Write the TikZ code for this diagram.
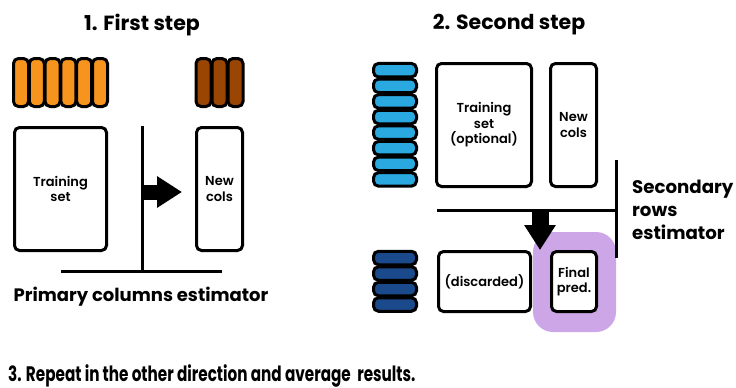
\documentclass[tikz,border=0pt]{standalone}
\usepackage{fontspec}
\setmainfont{Poppins}[BoldFont={Poppins SemiBold}]
\newfontfamily\heavyfont{Poppins Bold}
\usetikzlibrary{arrows.meta,positioning}

\definecolor{colorange}{HTML}{F7941D}
\definecolor{colbrown}{HTML}{9A4502}
\definecolor{rowblue}{HTML}{29A9E0}
\definecolor{rowdark}{HTML}{1B4A8C}
\definecolor{hilite}{HTML}{CDA6E8}

\tikzset{
  databox/.style={draw, line width=3pt, rounded corners=5pt, fill=white, inner sep=0pt,
    align=center, font=\bfseries\fontsize{13}{15.5}\selectfont},
  strip/.style={draw, line width=3pt, rounded corners=5pt, inner sep=0pt},
  colstrip/.style={strip, minimum width=15pt, minimum height=48pt},
  rowstrip/.style={strip, minimum width=43pt, minimum height=13.5pt},
  estline/.style={line width=3pt},
  bigarrow/.style={line width=#1, -{Triangle[length=25pt,width=30pt]}},
  title/.style={font=\heavyfont\fontsize{20.5}{24}\selectfont},
  label/.style={font=\heavyfont\fontsize{18}{23}\selectfont, align=left}
}

\begin{document}
\begin{tikzpicture}[x=1pt, y=-1pt]
  \useasboundingbox (0,0) rectangle (736,388);

  % Titles
  \node[title] (title1) at (142,25) {1. First step};
  \node[title] (title2) at (509,25) {2. Second step};

  % First step: columns
  \foreach \i in {0,...,5}
    \node[colstrip, fill=colorange] (ocol\i) at (21+\i*15.8,82.5) {};
  \foreach \i in {0,...,2}
    \node[colstrip, fill=colbrown] (bcol\i) at (203.5+\i*16,82.5) {};

  % First step: boxes
  \node[databox, minimum width=92pt, minimum height=123pt] (train1) at (60.5,189) {Training\\set};
  \node[databox, minimum width=46pt, minimum height=123pt] (newcols1) at (219.5,189) {New\\cols};

  % Primary estimator
  \coordinate (est1top) at (142,126);
  \coordinate (est1bot) at (142,271);
  \coordinate (est1left) at (61,271);
  \coordinate (est1right) at (222,271);
  \draw[estline] (est1top) -- (est1bot);
  \draw[estline] (est1left) -- (est1right);
  \draw[bigarrow=15pt] ([yshift=-3pt]est1top |- newcols1.west) -- ([xshift=-13pt,yshift=-3pt]newcols1.west);
  \node[label] (prim) at (141,297) {Primary columns estimator};

  % Second step: rows
  \foreach \i in {0,...,7}
    \node[rowstrip, fill=rowblue] (brow\i) at (395,70.2+\i*15.6) {};
  \foreach \i in {0,...,3}
    \node[rowstrip, fill=rowdark] (drow\i) at (395,258+\i*15.5) {};

  % Second step: boxes
  \node[fill=hilite, rounded corners=20pt, minimum width=83pt, minimum height=100pt] (hilite) at (574.5,282) {};
  \node[databox, minimum width=95pt, minimum height=123pt] (train2) at (484,125) {Training\\set\\(optional)};
  \node[databox, minimum width=46pt, minimum height=123pt] (newcols2) at (573.5,125) {New\\cols};
  \node[databox, minimum width=92pt, minimum height=60pt] (discard) at (484.5,281.5) {(discarded)};
  \node[databox, minimum width=45pt, minimum height=60pt] (finalpred) at (574,281.5) {Final\\pred.};

  % Secondary estimator
  \coordinate (est2top) at (616,160);
  \coordinate (est2bot) at (616,258);
  \coordinate (est2left) at (437,210);
  \coordinate (split) at (540,210);
  \draw[estline] (est2top) -- (est2bot);
  \draw[estline] (est2left) -- (est2left -| est2top);
  \draw[bigarrow=17pt] (split) -- (split |- finalpred.north);
  \node[label, anchor=west, inner sep=0pt, font=\heavyfont\fontsize{18.2}{23}\selectfont] (sec) at (632,210) {Secondary\\rows\\estimator};

  % Last step
  \node[title, anchor=base west, inner sep=0pt, font=\heavyfont\fontsize{21}{24}\selectfont] (title3) at (8,381)
    {\scalebox{0.725}[1]{3. Repeat in the other direction and average\ \ results.}};
\end{tikzpicture}
\end{document}
